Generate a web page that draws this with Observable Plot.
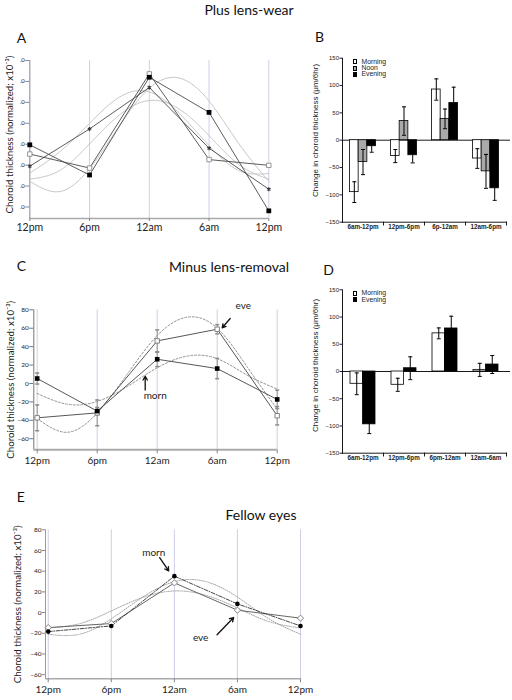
<!DOCTYPE html>
<html><head><meta charset="utf-8">
<script src="https://cdn.jsdelivr.net/npm/d3@7"></script>
<script src="https://cdn.jsdelivr.net/npm/@observablehq/plot@0.6"></script>
<style>
html,body{margin:0;padding:0;background:#fff;}
#page{position:relative;width:512px;height:700px;overflow:hidden;font-family:Lato,"Open Sans",sans-serif;color:#111;}
#page svg{position:absolute;overflow:visible;}
.t{position:absolute;white-space:nowrap;font-size:14px;line-height:16px;}
.c{transform:translate(-50%,-50%);}
.l{transform:translate(0,-50%);}
.lg{position:absolute;font-family:"Liberation Sans",Arial,sans-serif;font-size:6.8px;line-height:8px;color:#222;white-space:nowrap;}
.sw{position:absolute;width:4px;height:5px;border:0.7px solid #000;box-sizing:border-box;}
</style></head><body><div id="page"></div>
<script>
// ---------- shared axes ----------
const hours = [0, 6, 12, 18, 24];
const timeLabels = ["12pm", "6pm", "12am", "6am", "12pm"];
const fitHours = [0, 3, 6, 9, 12, 15, 18, 21, 24];
const lineTicks = [80, 60, 40, 20, 0, -20, -40, -60];
const barTicks = [-150, -100, -50, 0, 50, 100, 150];
const lineYLabel = "Choroid thickness (normalized; x10⁻³)";
const barYLabel = "Change in choroid thickness (μm/6hr)";

// ---------- Panel A: Plus lens-wear ----------
const aFilled = [-0.6, -29.4, 64, 30.4, -63.7];
const aOpen = [-9.4, -22.8, 67.2, -14.7, -20.2];
const aStar = [-21, 14.6, 54.2, -3.8, -43];
const aFit1 = [-35.5, -45.3, -23.3, 17.6, 53.5, 63.3, 41.3, 0.4, -35.5];
const aFit2 = [-27.6, -7.3, 20, 45, 50, 29.7, -1.4, -25.2, -28];
const aFit3 = [-33.4, -25.2, 0.2, 28, 41.8, 33.6, 8.2, -19.6, -33.4];

// ---------- Panel B ----------
const intervalsB = ["6am-12pm", "12pm-6pm", "6p-12am", "12am-6pm"];
const bMorning = [-95, -29, 92.7, -33.5];
const bMorningErr = [19, 12, 19.5, 18];
const bNoon = [-40, 35, 39, -57];
const bNoonErr = [23, 26, 18, 31];
const bEvening = [-11, -27.5, 68, -88];
const bEveningErr = [11, 14, 29, 22];

// ---------- Panel C: Minus lens-removal ----------
const cMorn = [5.4, -30, 26.3, 16.2, -17.3];
const cMornErr = [6, 4, 8, 11, 10];
const cEve = [-37.3, -31.9, 46.2, 58.9, -35];
const cEveErr = [14, 14, 12, 5, 10];
const cMornFit = [-10.8, -22.5, -19.5, -3.4, 17.1, 29.7, 27, 9, -6];
const cEveFit = [-38, -53, -32, 10, 52, 72, 60, 18, -28];
const cNoteText = ["eve", "morn"];
const cNoteHour = [20.6, 11.8];
const cNoteValue = [84.8, -13.8];
const cArrowFrom = [[19.3, 70.5], [10.8, -7.2]];
const cArrowTo = [[18.5, 60.5], [10.8, 7.9]];

// ---------- Panel D ----------
const intervalsD = ["6am-12pm", "12pm-6pm", "6pm-12am", "12am-6am"];
const dMorning = [-22.6, -24.4, 70, 3];
const dMorningErr = [20, 12, 10, 12];
const dEvening = [-97, 6, 79, 12.8];
const dEveningErr = [17, 21, 22.5, 16.5];

// ---------- Panel E: Fellow eyes ----------
const eMorn = [-18.4, -12.9, 35.2, 8.4, -12.9];
const eEve = [-14.5, -10.6, 28.7, 2.3, -5.4];
const eFit1 = [-20.9, -20.9, -6, 15, 29.9, 29.9, 15, -6, -20.9];
const eFit2 = [-14.9, -10.7, 1.6, 14.7, 20.9, 16.7, 4.4, -8.7, -14.9];
const eNoteText = ["morn", "eve"];
const eNoteHour = [10.04, 14.5];
const eNoteValue = [58, -24.2];
const eArrowFrom = [[10.6, 53.1], [16.06, -21.5]];
const eArrowTo = [[11.46, 40.3], [17.64, -4.8]];

// ---------- helpers ----------
const page = document.getElementById("page");
function put(el, left, top) { el.style.left = left + "px"; el.style.top = top + "px"; page.appendChild(el); }
function label(txt, cls, left, top) { const d = document.createElement("div"); d.className = "t " + cls; d.textContent = txt; put(d, left, top); }
const pts = (series, vals, errs) => hours.map((h, i) => ({series, hour: h, value: vals[i], err: errs ? errs[i] : 0}));
const fit = (series, vals) => fitHours.map((h, i) => ({series, hour: h, value: vals[i]}));
const notes = (t, h, v) => t.map((s, i) => ({text: s, hour: h[i], value: v[i]}));
const arrows = (f, t) => f.map((p, i) => ({x1: p[0], y1: p[1], x2: t[i][0], y2: t[i][1]}));
const timeFmt = d => timeLabels[hours.indexOf(d)];
const hline = {draw(ctx, size) { const w = Math.sqrt(size / Math.PI); ctx.moveTo(-w, 0); ctx.lineTo(w, 0); }};
const lineStyle = {fontFamily: "Lato, sans-serif", background: "transparent", color: "#222"};
const gridColor = "#c9c9e6";
const yLabelMark = (txt, dx, dy, size) => Plot.text([txt], {text: d => d, frameAnchor: "left", textAnchor: "middle", lineAnchor: "middle", rotate: -90, dx, dy, fontSize: size, fill: "#222"});

// ---------- Panel A ----------
{
  const filled = pts("f", aFilled), open = pts("o", aOpen), star = pts("s", aStar);
  const fits = [...fit("1", aFit1), ...fit("2", aFit2), ...fit("3", aFit3)];
  const svg = Plot.plot({
    width: 290, height: 198, marginLeft: 29.3, marginRight: 21.7, marginTop: 20, marginBottom: 20,
    x: {domain: [0, 24]}, y: {domain: [-71, 80]}, style: lineStyle,
    marks: [
      Plot.ruleX(hours, {stroke: gridColor, strokeWidth: 0.9}),
      Plot.ruleX([0], {stroke: "#999", strokeWidth: 1}),
      Plot.ruleY([-71], {stroke: "#aaa", strokeWidth: 1.6}),
      Plot.axisY({ticks: lineTicks, tickFormat: () => ".0", tickSize: 4, tickPadding: 1, fontSize: 6, stroke: "#888", label: null}),
      Plot.axisX({ticks: hours, tickFormat: timeFmt, tickSize: 3, tickPadding: 2, fontSize: 10.5, stroke: "#888", label: null}),
      yLabelMark(lineYLabel, -20, -5, 9.7),
      Plot.line(fits, {x: "hour", y: "value", z: "series", curve: "natural", stroke: "#c2c2c2", strokeWidth: 0.9}),
      Plot.line([...filled, ...open, ...star], {x: "hour", y: "value", z: "series", stroke: "#4a4a4a", strokeWidth: 0.9}),
      Plot.dot(open, {x: "hour", y: "value", symbol: "square", r: 2.5, fill: "white", stroke: "#8a8a8a", strokeWidth: 0.9}),
      Plot.dot(star, {x: "hour", y: "value", symbol: "asterisk", r: 1.9, stroke: "#333", strokeWidth: 1.1}),
      Plot.dot(filled, {x: "hour", y: "value", symbol: "square", r: 2.7, fill: "#000", stroke: "none"})
    ]
  });
  put(svg, 0, 40);
}

// ---------- bar panels ----------
function barPanel({cats, series, top, height, marginTop, marginBottom, barW, labelDy, legendTop}) {
  const band = 41, off = (band - series.length * barW) / 2;
  const marks = [
    Plot.ruleY([0], {stroke: "#000", strokeWidth: 0.9, insetRight: -4}),
    Plot.frame({anchor: "left", stroke: "#000", strokeWidth: 0.9}),
    Plot.frame({anchor: "bottom", stroke: "#000", strokeWidth: 0.9}),
    Plot.ruleX(cats, {x: d => d, dx: band / 2, y1: -150, y2: -157, stroke: "#000", strokeWidth: 0.9}),
    Plot.axisY({ticks: barTicks, tickSize: 2.5, tickPadding: 1, fontSize: 6, label: null}),
    Plot.axisX({tickSize: 0, tickPadding: 2, fontSize: 6.3, fontWeight: "bold", label: null}),
    yLabelMark(barYLabel, -27, labelDy, 8)
  ];
  series.forEach((s, k) => {
    const rows = cats.map((c, i) => ({cat: c, value: s.values[i], err: s.errs[i]}));
    const inL = off + k * barW, inR = band - inL - barW, dx = inL + barW / 2 - band / 2;
    marks.push(Plot.barY(rows, {x: "cat", y: "value", fill: s.fill, stroke: "#000", strokeWidth: 0.8, insetLeft: inL, insetRight: inR}));
    marks.push(Plot.ruleX(rows, {x: "cat", y1: d => d.value - d.err, y2: d => d.value + d.err, dx, stroke: "#000", strokeWidth: 1}));
    marks.push(Plot.dot(rows, {x: "cat", y: d => d.value + d.err, dx, symbol: hline, r: 2, stroke: "#000", fill: "none", strokeWidth: 1}));
    marks.push(Plot.dot(rows, {x: "cat", y: d => d.value - d.err, dx, symbol: hline, r: 2, stroke: "#000", fill: "none", strokeWidth: 1}));
  });
  const svg = Plot.plot({
    width: 212, height, marginLeft: 42, marginRight: 6, marginTop, marginBottom,
    x: {type: "band", domain: cats, padding: 0}, y: {domain: [-150, 150]},
    style: {fontFamily: "'Liberation Sans', Arial, sans-serif", background: "transparent", color: "#222"},
    marks
  });
  put(svg, 300, top);
  series.forEach((s, k) => {
    const cy = legendTop + k * 6.3;
    const sw = document.createElement("div"); sw.className = "sw"; sw.style.background = s.fill; put(sw, 352.7, cy - 2.5);
    const tx = document.createElement("div"); tx.className = "lg"; tx.textContent = s.name; put(tx, 361.5, cy - 4);
  });
}

barPanel({
  cats: intervalsB, top: 40, height: 198, marginTop: 17.7, marginBottom: 16.3, barW: 8.7, labelDy: -9.7, legendTop: 61.7,
  series: [
    {name: "Morning", fill: "#fff", values: bMorning, errs: bMorningErr},
    {name: "Noon", fill: "#aaa", values: bNoon, errs: bNoonErr},
    {name: "Evening", fill: "#000", values: bEvening, errs: bEveningErr}
  ]
});
barPanel({
  cats: intervalsD, top: 270, height: 199, marginTop: 19.3, marginBottom: 16.3, barW: 12.5, labelDy: -6, legendTop: 293.3,
  series: [
    {name: "Morning", fill: "#fff", values: dMorning, errs: dMorningErr},
    {name: "Evening", fill: "#000", values: dEvening, errs: dEveningErr}
  ]
});

// ---------- Panel C ----------
{
  const morn = pts("m", cMorn, cMornErr), eve = pts("e", cEve, cEveErr);
  const fits = [...fit("m", cMornFit), ...fit("e", cEveFit)];
  const svg = Plot.plot({
    width: 300, height: 184, marginLeft: 33.3, marginRight: 23.3, marginTop: 19.3, marginBottom: 24.7,
    x: {domain: [-0.34, 24]}, y: {domain: [-72, 80]}, style: lineStyle,
    marks: [
      Plot.ruleX(hours, {stroke: gridColor, strokeWidth: 0.9}),
      Plot.ruleX([-0.34], {stroke: "#777", strokeWidth: 1}),
      Plot.ruleY([-72], {stroke: "#aaa", strokeWidth: 2}),
      Plot.axisY({ticks: lineTicks, tickSize: 4, tickPadding: 1, fontSize: 6.5, stroke: "#777", label: null}),
      Plot.axisX({ticks: hours, tickFormat: timeFmt, tickSize: 4, tickPadding: 3, fontSize: 10, stroke: "#888", label: null}),
      yLabelMark(lineYLabel, -23.3, 0, 9.7),
      Plot.line(fits, {x: "hour", y: "value", z: "series", curve: "natural", stroke: "#888", strokeWidth: 0.9, strokeDasharray: "2,1.8"}),
      Plot.ruleX([...morn, ...eve], {x: "hour", y1: d => d.value - d.err, y2: d => d.value + d.err, stroke: "#8a8a8a", strokeWidth: 0.9}),
      Plot.dot([...morn, ...eve], {x: "hour", y: d => d.value + d.err, symbol: hline, r: 2, stroke: "#8a8a8a", fill: "none"}),
      Plot.dot([...morn, ...eve], {x: "hour", y: d => d.value - d.err, symbol: hline, r: 2, stroke: "#8a8a8a", fill: "none"}),
      Plot.line([...morn, ...eve], {x: "hour", y: "value", z: "series", stroke: "#444", strokeWidth: 0.9}),
      Plot.dot(eve, {x: "hour", y: "value", symbol: "square", r: 2.5, fill: "white", stroke: "#777", strokeWidth: 0.9}),
      Plot.dot(morn, {x: "hour", y: "value", symbol: "square", r: 2.6, fill: "#000", stroke: "none"}),
      Plot.arrow(arrows(cArrowFrom, cArrowTo), {x1: "x1", y1: "y1", x2: "x2", y2: "y2", headLength: 5, stroke: "#111", strokeWidth: 1.3}),
      Plot.text(notes(cNoteText, cNoteHour, cNoteValue), {x: "hour", y: "value", text: "text", fontSize: 10, fill: "#222"})
    ]
  });
  put(svg, 0, 290);
}

// ---------- Panel E ----------
{
  const morn = pts("m", eMorn), eve = pts("e", eEve);
  const fits = [...fit("1", eFit1), ...fit("2", eFit2)];
  const svg = Plot.plot({
    width: 320, height: 180, marginLeft: 45, marginRight: 20, marginTop: 9.3, marginBottom: 21.7,
    x: {domain: [-0.26, 24]}, y: {domain: [-64, 80]}, style: lineStyle,
    marks: [
      Plot.ruleX(hours, {stroke: gridColor, strokeWidth: 0.9}),
      Plot.ruleX([-0.26], {stroke: "#999", strokeWidth: 1}),
      Plot.ruleY([-64], {stroke: "#aaa", strokeWidth: 1.6}),
      Plot.axisY({ticks: lineTicks, tickSize: 3, tickPadding: 1, fontSize: 6.5, stroke: "#888", label: null}),
      Plot.axisX({ticks: hours, tickFormat: timeFmt, tickSize: 4, tickPadding: 3, fontSize: 10, stroke: "#888", label: null}),
      yLabelMark(lineYLabel, -27.3, 0, 9.7),
      Plot.line(fits, {x: "hour", y: "value", z: "series", curve: "natural", stroke: "#999", strokeWidth: 0.9, strokeDasharray: "1,1.3"}),
      Plot.line(eve, {x: "hour", y: "value", stroke: "#555", strokeWidth: 0.9}),
      Plot.line(morn, {x: "hour", y: "value", stroke: "#333", strokeWidth: 0.9, strokeDasharray: "4,1.5,1,1.5"}),
      Plot.dot(eve, {x: "hour", y: "value", symbol: "diamond2", r: 2.8, fill: "white", stroke: "#777", strokeWidth: 0.9}),
      Plot.dot(morn, {x: "hour", y: "value", r: 2.3, fill: "#000", stroke: "none"}),
      Plot.arrow(arrows(eArrowFrom, eArrowTo), {x1: "x1", y1: "y1", x2: "x2", y2: "y2", headLength: 5, stroke: "#111", strokeWidth: 1.3}),
      Plot.text(notes(eNoteText, eNoteHour, eNoteValue), {x: "hour", y: "value", text: "text", fontSize: 10, fill: "#222"})
    ]
  });
  put(svg, 0, 520);
}

// ---------- titles & panel letters ----------
label("Plus lens-wear", "c", 249, 10);
label("A", "l", 16.7, 38);
label("B", "l", 315, 37);
label("C", "l", 16.7, 266);
label("Minus lens-removal", "c", 229, 266.7);
label("D", "l", 323.3, 270);
label("E", "l", 16.7, 497);
label("Fellow eyes", "c", 261, 515);
</script></body></html>
